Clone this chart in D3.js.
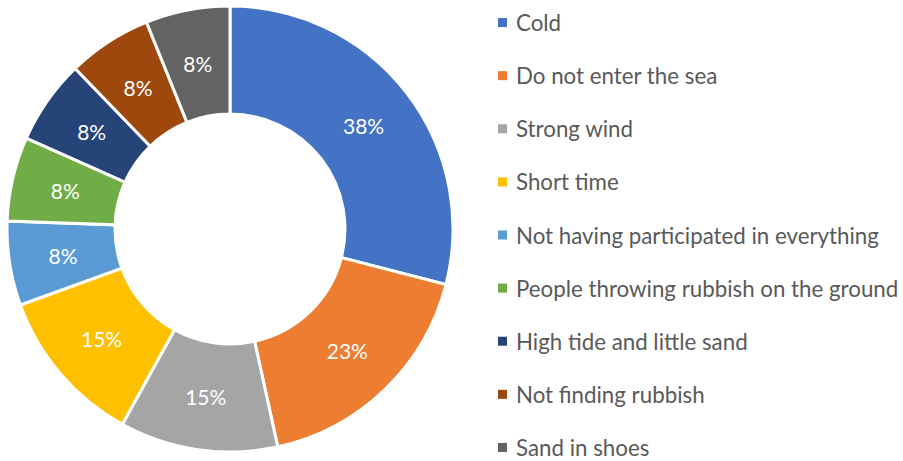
<!DOCTYPE html>
<html>
<head>
<meta charset="utf-8">
<script src="https://cdn.jsdelivr.net/npm/d3@7"></script>
<style>
  html, body { margin: 0; padding: 0; background: #fff; }
  svg { display: block; }
</style>
</head>
<body>
<svg id="chart" width="903" height="461"></svg>
<script>
const categories = [
  "Cold",
  "Do not enter the sea",
  "Strong wind",
  "Short time",
  "Not having participated in everything",
  "People throwing rubbish on the ground",
  "High tide and little sand",
  "Not finding rubbish",
  "Sand in shoes"
];
const values = [38, 23, 15, 15, 8, 8, 8, 8, 8];
const colors = ["#4472C4", "#ED7D31", "#A5A5A5", "#FFC000", "#5B9BD5", "#70AD47", "#264478", "#9E480E", "#636363"];

const svg = d3.select("#chart");
const cx = 230, cy = 229, outerR = 223, innerR = 115;
const font = "Lato, 'Open Sans', sans-serif";

const data = categories.map((c, i) => ({ name: c, value: values[i], color: colors[i] }));
const pie = d3.pie().value(d => d.value).sort(null);
const arc = d3.arc().innerRadius(innerR).outerRadius(outerR);

const g = svg.append("g").attr("transform", `translate(${cx},${cy})`);
const arcs = pie(data);
g.selectAll("path").data(arcs).join("path")
  .attr("d", arc)
  .attr("fill", d => d.data.color)
  .attr("stroke", "#fff")
  .attr("stroke-width", 3)
  .attr("stroke-linejoin", "miter");

g.selectAll("text").data(arcs).join("text")
  .attr("transform", d => `translate(${arc.centroid(d)})`)
  .attr("text-anchor", "middle")
  .attr("dominant-baseline", "central")
  .attr("font-family", font)
  .attr("font-size", 21)
  .attr("fill", "#fff")
  .text(d => d.data.value + "%");

// Legend
const legend = svg.append("g");
const ly = d3.scaleBand().domain(categories).range([-4, 474]).paddingInner(0).paddingOuter(0);
const rows = legend.selectAll("g").data(data).join("g")
  .attr("transform", d => `translate(498,${ly(d.name) + ly.bandwidth() / 2})`);
rows.append("rect")
  .attr("x", 0).attr("y", -4.5).attr("width", 9).attr("height", 9)
  .attr("fill", d => d.color);
rows.append("text")
  .attr("x", 18).attr("y", 0)
  .attr("dominant-baseline", "central")
  .attr("font-family", font)
  .attr("font-size", 22.3)
  .attr("fill", "#595959")
  .text(d => d.name);
</script>
</body>
</html>
